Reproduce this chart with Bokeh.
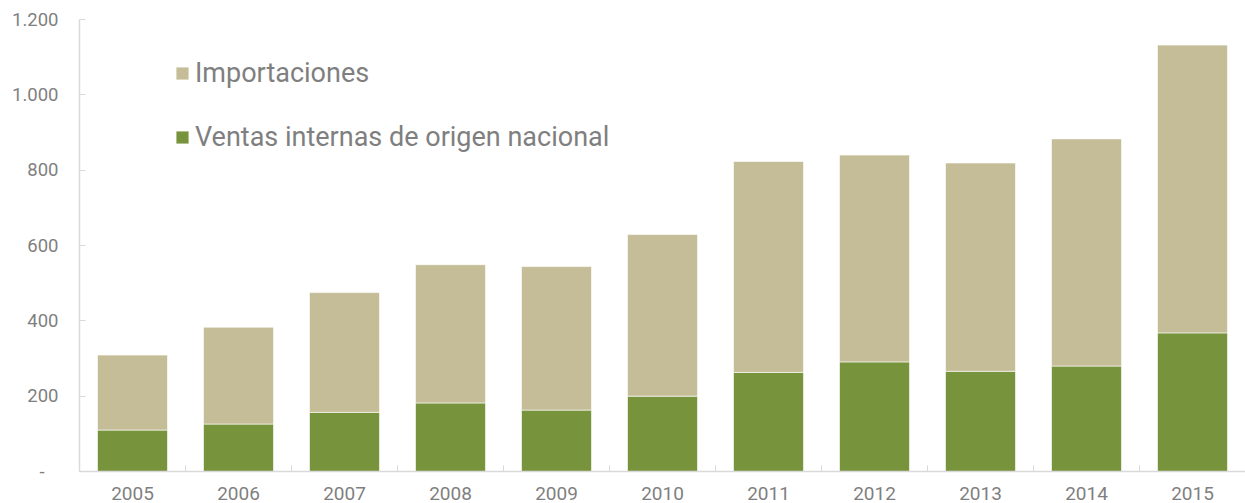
from bokeh.plotting import figure
from bokeh.models import Range1d, FixedTicker, Legend, LegendItem
from bokeh.embed import file_html
from bokeh.resources import INLINE

years = ["2005", "2006", "2007", "2008", "2009", "2010", "2011", "2012", "2013", "2014", "2015"]
ventas = [110, 126, 157, 182, 163, 200, 263, 291, 266, 280, 368]
importaciones = [199, 257, 318, 367, 381, 429, 560, 549, 553, 603, 764]
y_ticks = [0, 200, 400, 600, 800, 1000, 1200]
y_labels = ["-\u00a0\u00a0\u00a0", "200", "400", "600", "800", "1.000", "1.200"]
series_names = ["Ventas internas de origen nacional", "Importaciones"]
colors = ["#77933C", "#C4BD97"]

TEXT = "#7f7f7f"
AXIS = "#d9d9d9"
FONT = "Roboto"

n = len(years)
centers = [i + 0.5 for i in range(n)]
data = dict(x=centers, ventas=ventas, importaciones=importaciones)

p = figure(width=1245, height=508, output_backend="svg", toolbar_location=None,
           x_range=Range1d(0, n), y_range=Range1d(0, 1200),
           min_border_left=79, min_border_right=0, min_border_top=19, min_border_bottom=37)
p.outline_line_color = None
p.xgrid.visible = False
p.ygrid.visible = False
p.background_fill_color = "white"

rs = p.vbar_stack(["ventas", "importaciones"], x="x", width=0.66, source=data,
                  color=colors, line_color="white", line_alpha=0.6, line_width=1)

# x axis
xa = p.xaxis[0]
xa.ticker = FixedTicker(ticks=centers, minor_ticks=list(range(1, n)))
xa.major_label_overrides = {c: y for c, y in zip(centers, years)}
xa.major_tick_line_color = None
xa.major_tick_in = 0
xa.major_tick_out = 0
xa.minor_tick_line_color = AXIS
xa.minor_tick_in = 6
xa.minor_tick_out = 0
xa.axis_line_color = AXIS
xa.axis_line_width = 1.5
xa.minor_tick_line_width = 1
xa.major_label_text_font = FONT
xa.major_label_text_font_size = "19px"
xa.major_label_text_color = TEXT
xa.major_label_standoff = 15

# y axis
ya = p.yaxis[0]
ya.ticker = FixedTicker(ticks=y_ticks, minor_ticks=[])
ya.major_label_overrides = {t: l for t, l in zip(y_ticks, y_labels)}
ya.major_tick_line_color = AXIS
ya.major_tick_in = 6
ya.major_tick_out = 0
ya.minor_tick_line_color = None
ya.axis_line_color = AXIS
ya.axis_line_width = 1.5
ya.major_label_text_font = FONT
ya.major_label_text_font_size = "18.5px"
ya.major_label_text_color = TEXT
ya.major_label_standoff = 21

legend = Legend(items=[LegendItem(label=series_names[1], renderers=[rs[1]]),
                       LegendItem(label=series_names[0], renderers=[rs[0]])],
                location=(95, 318), orientation="vertical",
                glyph_width=16, glyph_height=16, label_standoff=5, spacing=32,
                padding=0, margin=0, border_line_color=None, background_fill_alpha=0,
                label_text_font=FONT, label_text_font_size="27px", label_text_color=TEXT)
p.add_layout(legend, "center")

open("out.html", "w").write(file_html(p, INLINE))
